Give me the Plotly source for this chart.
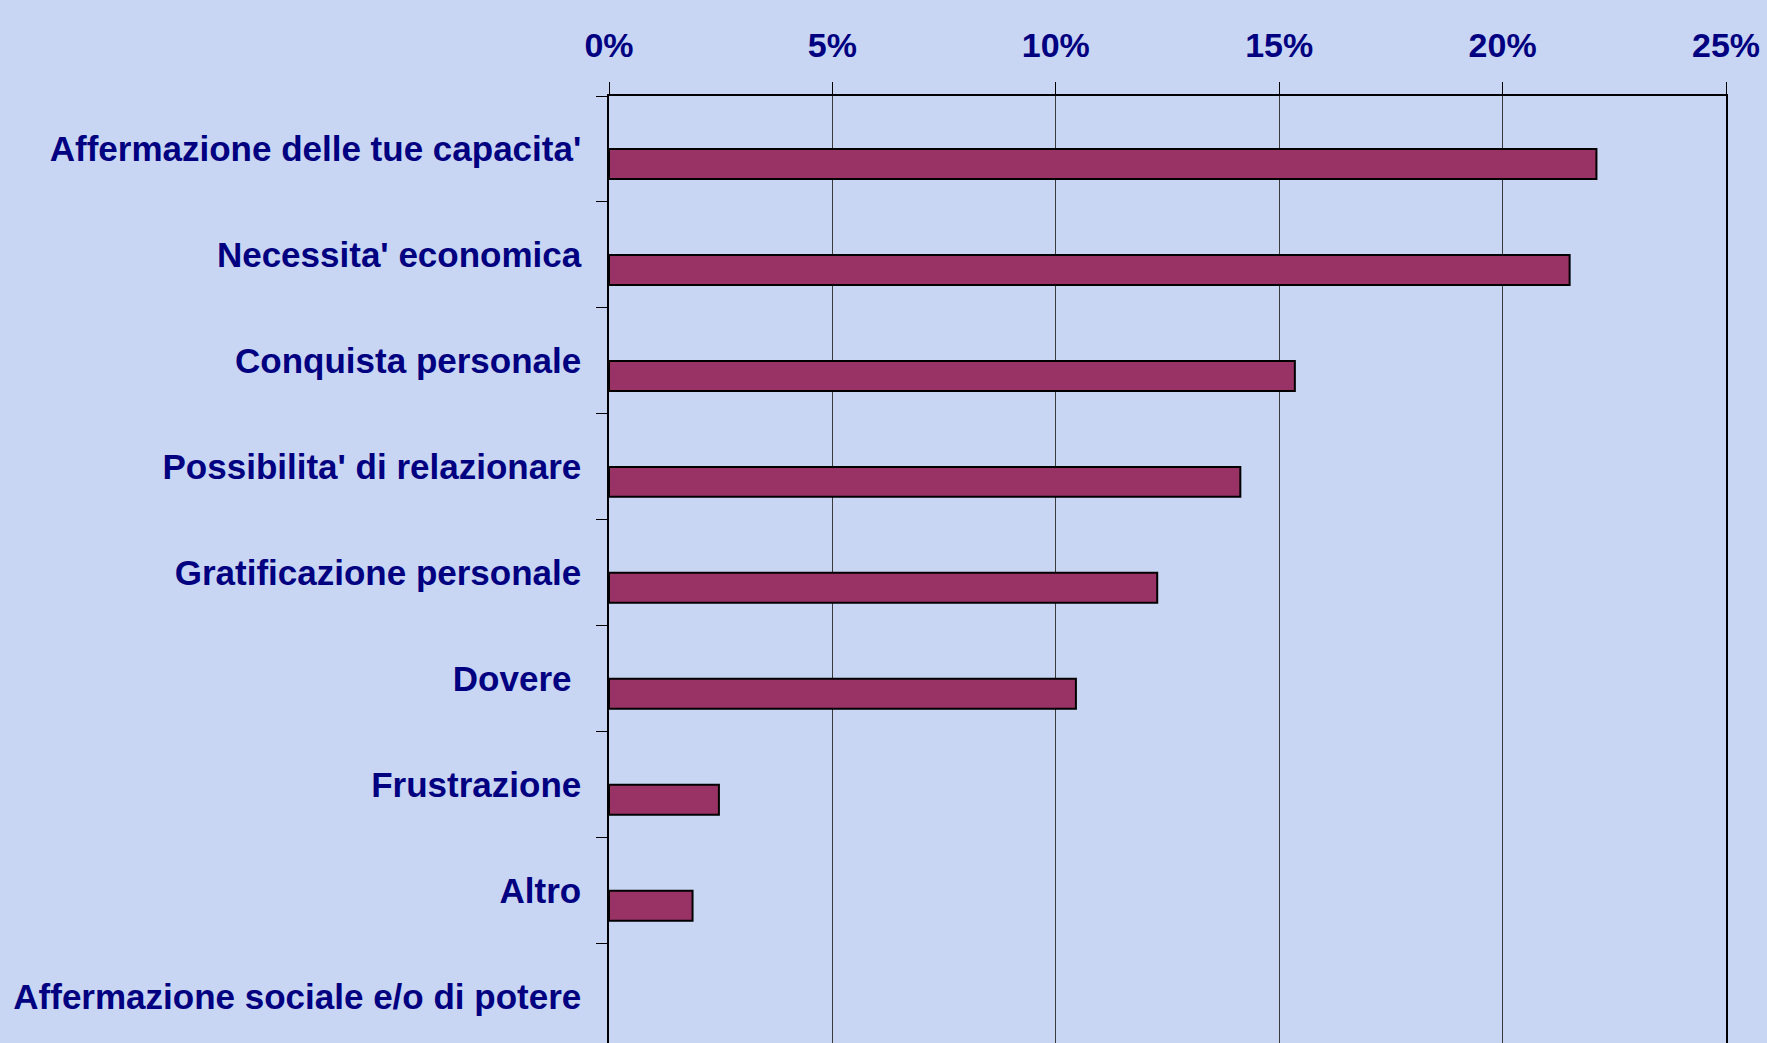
import plotly.graph_objects as go

categories = [
    "Affermazione delle tue capacita'",
    "Necessita' economica",
    "Conquista personale",
    "Possibilita' di relazionare",
    "Gratificazione personale",
    "Dovere\u00a0",
    "Frustrazione",
    "Altro",
    "Affermazione sociale e/o di potere",
]
values = [22.1, 21.5, 15.35, 14.13, 12.27, 10.45, 2.46, 1.87, 0.0]
x_ticks = [0, 5, 10, 15, 20, 25]
x_tick_labels = ["0%", "5%", "10%", "15%", "20%", "25%"]

W, H = 1767, 1043
left, right, top, bottom = 608.7, 1726.5, 95.7, 1043
band = 106.0
n_visible = (bottom - top) / band

fig = go.Figure(
    go.Bar(
        y=categories,
        x=values,
        orientation="h",
        width=0.283,
        offset=0,
        marker=dict(
            color="#993366",
            line=dict(color="#000000", width=[2 if v > 0 else 0 for v in values]),
        ),
    )
)

fnt = dict(family="Liberation Sans, Arial, sans-serif", size=35, color="#000080")

fig.update_layout(
    width=W,
    height=H,
    margin=dict(l=left, r=W - right, t=top, b=H - bottom, pad=0),
    paper_bgcolor="#c8d6f4",
    plot_bgcolor="rgba(0,0,0,0)",
    showlegend=False,
    font=fnt,
    xaxis=dict(
        side="top",
        range=[0, 25],
        tickvals=x_ticks,
        ticktext=x_tick_labels,
        showgrid=True,
        gridcolor="#3a3a3a",
        gridwidth=1,
        zeroline=False,
        showline=True,
        linecolor="#000000",
        linewidth=2,
        ticks="outside",
        ticklen=12,
        tickcolor="#000000",
        tickfont=dict(family="Liberation Sans, Arial, sans-serif", size=34, color="#000080", weight="bold"),
        ticklabelstandoff=11,
        fixedrange=True,
    ),
    yaxis=dict(
        type="category",
        categoryorder="array",
        categoryarray=categories,
        range=[-0.5 + n_visible, -0.5],
        showgrid=False,
        zeroline=False,
        showline=True,
        mirror=True,
        linecolor="#000000",
        linewidth=1.5,
        ticks="outside",
        ticklen=11,
        tickcolor="#000000",
        tickson="boundaries",
        tickfont=dict(family="Liberation Sans, Arial, sans-serif", size=35, color="#000080", weight="bold"),
        ticklabelstandoff=19,
        fixedrange=True,
    ),
)

fig.write_html(
    "out.html",
    config={"displayModeBar": False},
    post_script="document.body.style.margin='0';document.body.style.overflow='hidden';",
)
